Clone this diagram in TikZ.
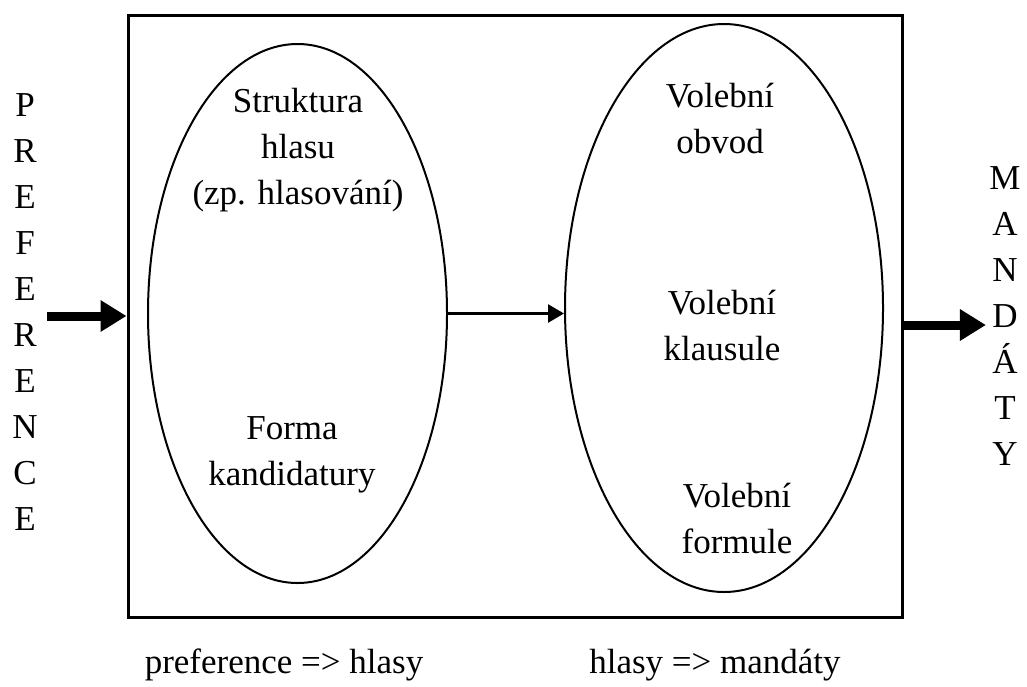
\documentclass[tikz,border=0pt]{standalone}
\usepackage{fontspec}
\setmainfont{Liberation Serif}
\usetikzlibrary{shapes.geometric,arrows.meta,positioning}

\begin{document}
\begin{tikzpicture}[x=1pt,y=-1pt,
  txt/.style={align=center,font=\fontsize{35}{46}\selectfont},
  oval/.style={draw,ellipse,line width=2pt,inner sep=0pt},
  fat/.style={line width=9pt,-{Triangle[length=26pt,width=30pt]}},
  thin/.style={line width=2.5pt,-{Triangle[length=16pt,width=18pt]}}]
  \useasboundingbox (0,0) rectangle (1027,686);
  \node[draw,line width=3pt,minimum width=774pt,minimum height=602pt,inner sep=0pt] (box) at (515,316) {};
  \node[oval,minimum width=299pt,minimum height=539pt] (left) at (297.5,313.5) {};
  \node[oval,minimum width=318pt,minimum height=568pt] (right) at (724,308) {};
  \node[txt] (struktura) at (298,150) {Struktura\\hlasu\\(zp. hlasování)};
  \node[txt] (forma) at (292,455) {Forma\\kandidatury};
  \node[txt] (obvod) at (720,118) {Volební\\obvod};
  \node[txt] (klausule) at (722,325) {Volební\\klausule};
  \node[txt] (formule) at (737,518) {Volební\\formule};
  \node[txt] (pref) at (25,312) {P\\R\\E\\F\\E\\R\\E\\N\\C\\E};
  \node[txt] (mand) at (1005,316) {M\\A\\N\\D\\Á\\T\\Y};
  \node[txt] (prefhlasy) at (284,665) {preference => hlasy};
  \node[txt] (hlasymand) at (715,665) {hlasy => mandáty};
  % sipky
  \draw[fat] ([xshift=6pt]pref.east |- box.west) -- (box.west);
  \draw[thin] (left.east) -- (left.east -| right.west);
  \draw[fat] ([yshift=-9pt]box.east) -- ([yshift=-9pt]box.east -| mand.west);
\end{tikzpicture}
\end{document}
